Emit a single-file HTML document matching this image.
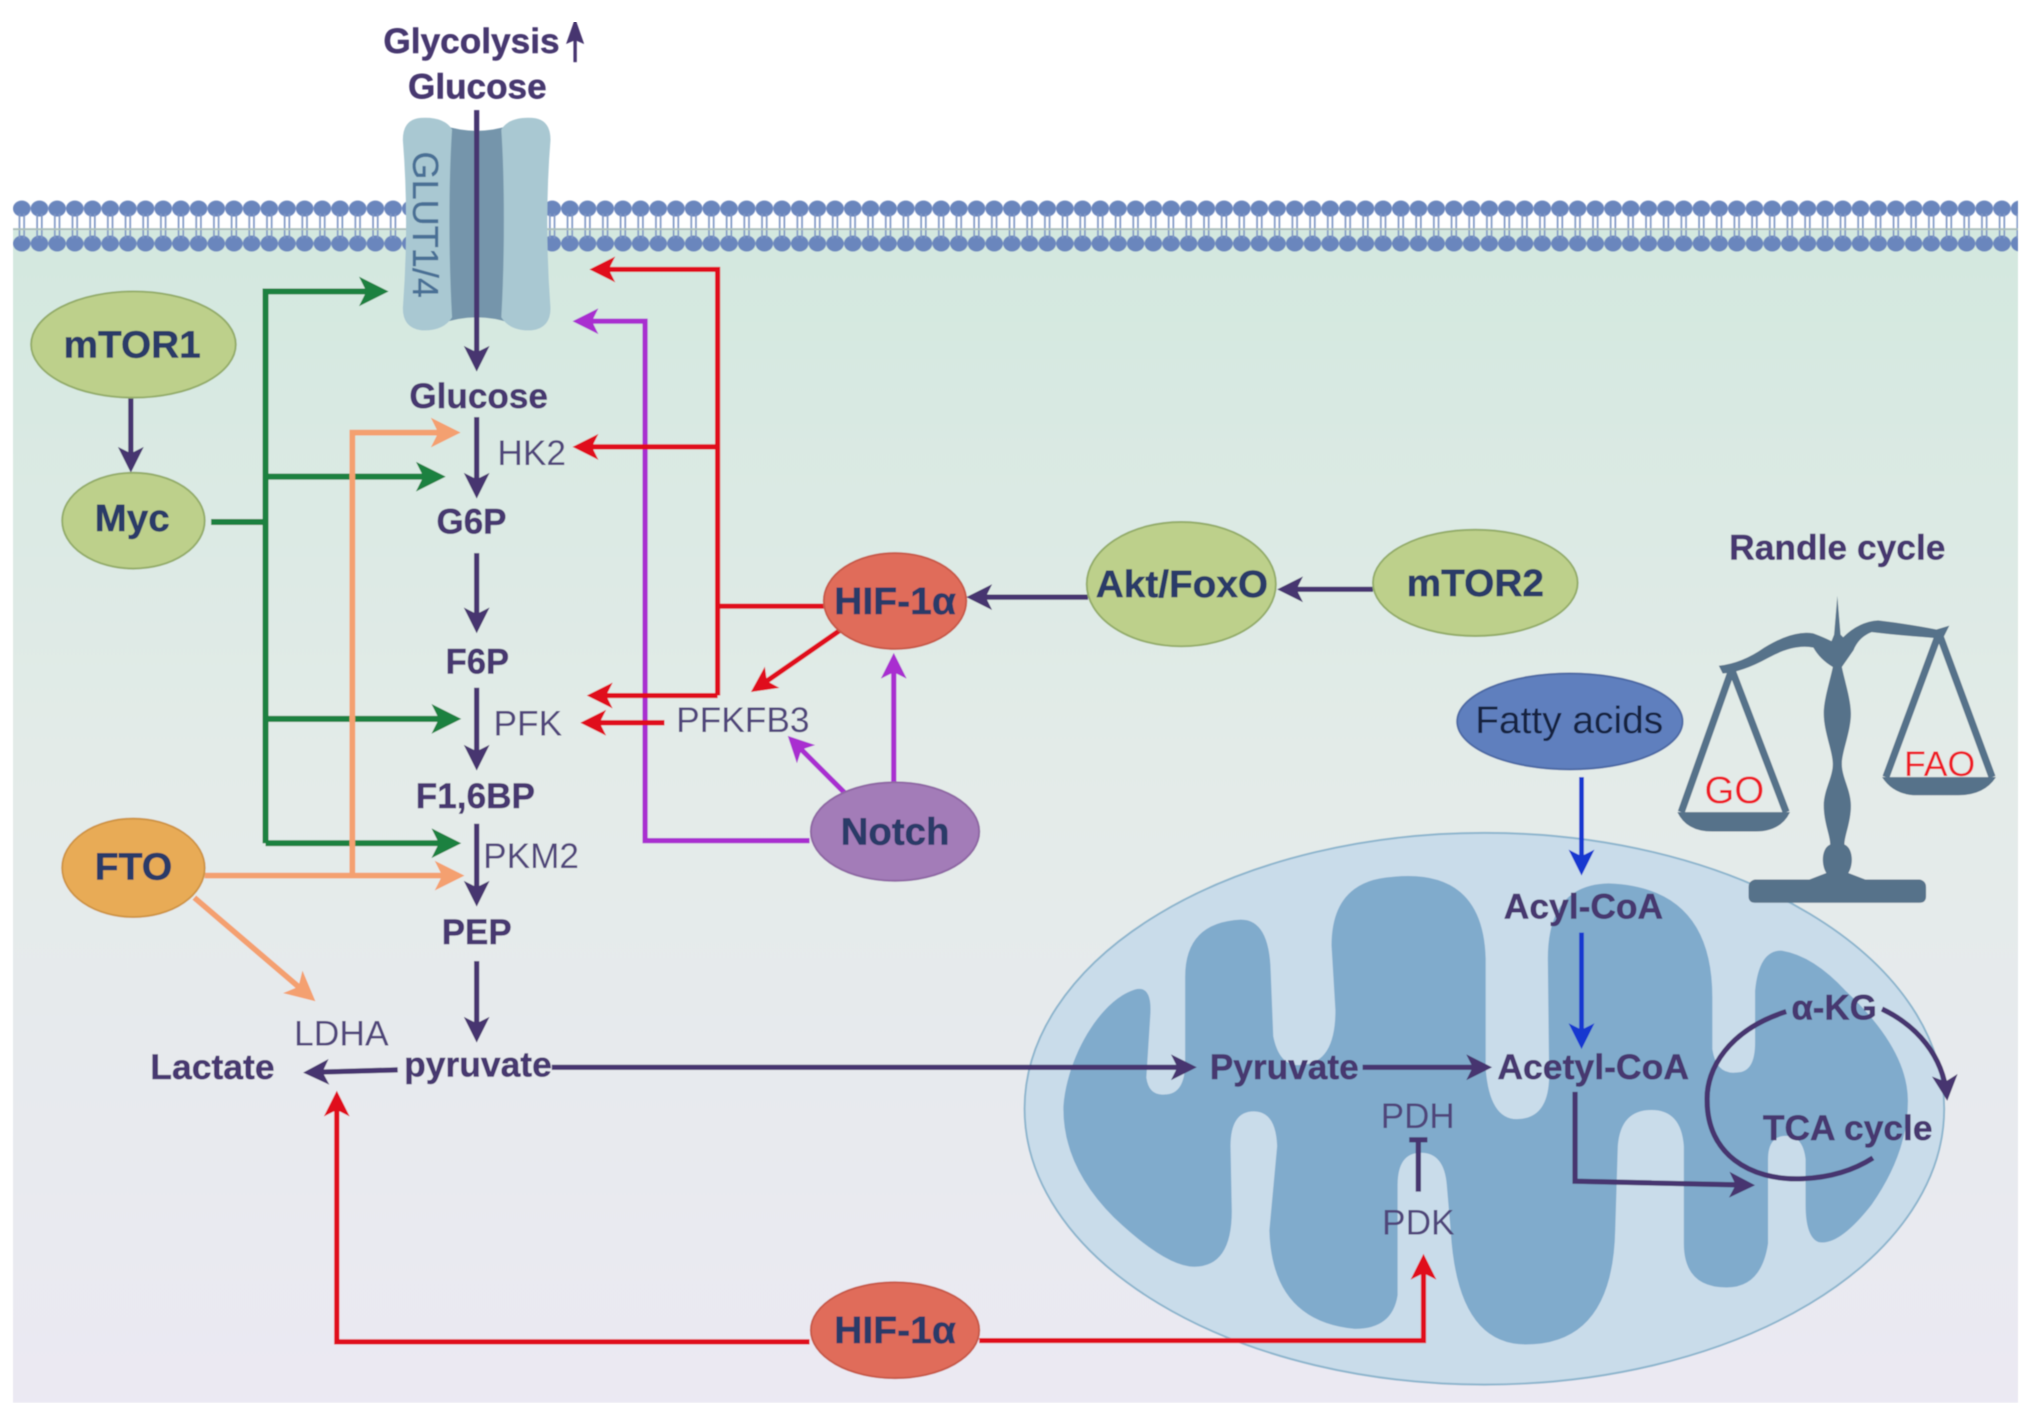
<!DOCTYPE html>
<html><head><meta charset="utf-8"><style>html,body{margin:0;padding:0;background:#fff}svg{display:block}text{font-family:"Liberation Sans",sans-serif}.b{font-weight:bold;fill:#47386f;font-size:27px;stroke:#47386f;stroke-width:.35px}.r{fill:#50457a;font-size:27px}.n{font-weight:bold;fill:#2b3a67;font-size:29px;stroke:#2b3a67;stroke-width:.35px}.l{fill:none;stroke-width:4}.d{stroke:#47366f}.g{stroke:#1a8140;stroke-width:4.6}.o{stroke:#f4a070;stroke-width:4.4}.e{stroke:#e0101f}.p{stroke:#a92fd0}.u{stroke:#1537d0;stroke-width:3.6}</style></head><body>
<svg xmlns="http://www.w3.org/2000/svg" width="2031" height="1417" viewBox="0 0 1568 1094">
<defs>
<linearGradient id="bg" x1="0" y1="0" x2="0" y2="1"><stop offset="0" stop-color="#d3e8df"/><stop offset=".45" stop-color="#e3ebe8"/><stop offset="1" stop-color="#ebe9f3"/></linearGradient>
<pattern id="lip" x="10" y="153" width="13.65" height="42" patternUnits="userSpaceOnUse"><ellipse cx="6.8" cy="8" rx="6.8" ry="6.2" fill="#6b86bd"/><ellipse cx="6.8" cy="35" rx="6.8" ry="6.2" fill="#6b86bd"/><path d="M5,12V31M8.6,12V31" stroke="#7f97c5" stroke-width="1.3" fill="none"/></pattern>
<marker id="md" viewBox="0 0 20 20" markerUnits="userSpaceOnUse" markerWidth="20" markerHeight="20" refX="16" refY="10" orient="auto"><path d="M0,0L20,10L0,20L5,10Z" fill="#47366f"/></marker>
<marker id="mt" viewBox="0 0 20 14" markerUnits="userSpaceOnUse" markerWidth="20" markerHeight="14" refX="16" refY="7" orient="auto"><path d="M0,0L20,7L0,14L3,7Z" fill="#47366f"/></marker>
<marker id="mg" viewBox="0 0 20 20" markerUnits="userSpaceOnUse" markerWidth="23" markerHeight="23" refX="16" refY="10" orient="auto"><path d="M0,0L20,10L0,20L5,10Z" fill="#1a8140"/></marker>
<marker id="mo" viewBox="0 0 20 20" markerUnits="userSpaceOnUse" markerWidth="23" markerHeight="23" refX="16" refY="10" orient="auto"><path d="M0,0L20,10L0,20L5,10Z" fill="#f4a070"/></marker>
<marker id="me" viewBox="0 0 20 20" markerUnits="userSpaceOnUse" markerWidth="20" markerHeight="20" refX="16" refY="10" orient="auto"><path d="M0,0L20,10L0,20L5,10Z" fill="#e0101f"/></marker>
<marker id="mp" viewBox="0 0 20 20" markerUnits="userSpaceOnUse" markerWidth="20" markerHeight="20" refX="16" refY="10" orient="auto"><path d="M0,0L20,10L0,20L5,10Z" fill="#a92fd0"/></marker>
<marker id="mu" viewBox="0 0 20 20" markerUnits="userSpaceOnUse" markerWidth="20" markerHeight="20" refX="16" refY="10" orient="auto"><path d="M0,0L20,10L0,20L5,10Z" fill="#1537d0"/></marker>
<filter id="soft" x="0" y="0" width="100%" height="100%"><feGaussianBlur stdDeviation="0.45"/></filter>
</defs>
<rect width="1568" height="1094" fill="#fff"/>
<g filter="url(#soft)">
<rect x="10" y="178" width="1548" height="905" fill="url(#bg)"/>
<rect x="10" y="153" width="1548" height="42" fill="url(#lip)"/>
<path d="M10,177H1558" stroke="#a9bdb9" stroke-width="1.5"/>

<!-- GLUT -->
<path d="M340,96Q368,106 396,96V250Q368,240 340,250Z" fill="#7595ab"/>
<path d="M325,91Q343,90 349,100Q347,130 347,170Q347,210 349,245Q342,256 325,255Q311,253 311,238Q316,170 311,108Q311,92 325,91Z" fill="#a9c8d2"/>
<path d="M411,91Q393,90 387,100Q389,130 389,170Q389,210 387,245Q394,256 411,255Q425,253 425,238Q420,170 425,108Q425,92 411,91Z" fill="#a9c8d2"/>
<text transform="translate(319,117) rotate(90)" font-size="28" fill="#4a6f95" stroke="#4a6f95" stroke-width=".25" textLength="113" lengthAdjust="spacingAndGlyphs">GLUT1/4</text>

<!-- mitochondrion -->
<ellipse cx="1146" cy="856" rx="355" ry="213" fill="#c9dcea" stroke="#8db5cd" stroke-width="1.5"/>
<path fill="#80abcc" d="M821,854 C824,815 850,772 876,764 Q890,760 888,785 L885,832 Q887,846 899,845 Q915,845 915,820 L915,754 Q915,712 958,710 Q980,710 981,750 L983,800 Q988,825 1006,822 Q1031,820 1031,780 L1028,730 Q1028,680 1075,677 Q1145,670 1147,740 L1147,825 Q1150,864 1171,864 Q1196,864 1196,830 L1195,740 Q1195,683 1242,682 Q1322,685 1322,770 L1322,810 Q1325,830 1341,828 Q1355,828 1355,805 L1355,765 Q1358,733 1376,734 Q1400,738 1425,765 Q1473,810 1473,850 Q1473,890 1445,930 Q1420,962 1404,959 Q1394,955 1394,930 L1394,895 Q1392,877 1379,877 Q1365,877 1365,895 L1365,960 Q1360,994 1333,994 Q1300,994 1300,960 L1300,885 Q1298,857 1275,857 Q1251,857 1249,885 L1247,950 Q1245,1038 1178,1038 Q1125,1038 1120,950 L1117,915 Q1115,890 1097,890 Q1079,890 1079,915 L1079,1000 Q1075,1026 1046,1026 Q982,1020 980,950 L986,885 Q985,858 968,858 Q950,858 950,885 L951,935 Q951,978 922,978 Q900,978 860,940 Q820,900 821,854 Z"/>

<!-- balance -->
<g fill="#56728a">
<path d="M1327,514 Q1345,512 1362,500 Q1385,486 1400,489 Q1408,492 1414,495 L1416,490 L1418.5,460 L1421,490 L1423,492 Q1435,480 1450,479 Q1475,482 1495,486 L1505,483 L1500,493 Q1470,491 1445,488 Q1435,492 1431,502 L1422,515 C1424,525 1429,540 1429,551 C1429,565 1422,580 1422,590 C1422,600 1429,610 1429,622 C1429,635 1424,645 1424,652 C1431,655 1431,668 1427,674 L1440,679 L1482,679 Q1487,680 1487,685 L1487,692 Q1487,697 1482,697 L1355,697 Q1350,697 1350,692 L1350,685 Q1350,680 1355,679 L1397,679 L1410,674 C1406,668 1406,655 1413,652 C1413,645 1408,635 1408,622 C1408,610 1415,600 1415,590 C1415,580 1408,565 1408,551 C1408,540 1413,525 1415,515 Q1405,509 1400,500 Q1385,497 1365,508 Q1345,519 1330,520 Z"/>
<path d="M1295,627L1382,627Q1375,642 1355,642L1322,642Q1302,642 1295,627Z"/>
<path d="M1453,600L1541,600Q1532,614 1512,614L1480,614Q1462,614 1453,600Z"/>
<path d="M1337,517L1298,627M1337,517L1379,627M1497,489L1456,600M1497,489L1538,600" fill="none" stroke="#56728a" stroke-width="5.5"/>
</g>
<text x="1316" y="620" font-size="29" fill="#ee1c25" textLength="46" lengthAdjust="spacingAndGlyphs">GO</text>
<text x="1470" y="599" font-size="27" fill="#ee1c25" textLength="55" lengthAdjust="spacingAndGlyphs">FAO</text>

<!-- connectors -->
<g class="x">
<path class="l g" d="M163,403H205"/>
<path class="l g" d="M205,651V225H295.5" marker-end="url(#mg)"/>
<path class="l g" d="M205,368H339.5" marker-end="url(#mg)"/>
<path class="l g" d="M205,555H351.5" marker-end="url(#mg)"/>
<path class="l g" d="M205,651H351.5" marker-end="url(#mg)"/>
<path class="l o" d="M158,676H354" marker-end="url(#mo)"/>
<path class="l o" d="M272,676V334H351" marker-end="url(#mo)"/>
<path class="l o" d="M150,693L240,770" marker-end="url(#mo)"/>
<path class="l p" d="M625,649H498V248H446" marker-end="url(#mp)"/>
<path class="l p" d="M653,613L611,571" marker-end="url(#mp)"/>
<path class="l p" d="M690,612V508" marker-end="url(#mp)"/>
<path class="l e" d="M636,468H554"/>
<path class="l e" d="M554,537V208H459" marker-end="url(#me)"/>
<path class="l e" d="M554,345H446" marker-end="url(#me)"/>
<path class="l e" d="M554,537H457" marker-end="url(#me)"/>
<path class="l e" d="M648,487L583,532" marker-end="url(#me)"/>
<path class="l e" d="M513,558H452" marker-end="url(#me)"/>
<path class="l e" d="M625,1036H260V846" marker-end="url(#me)"/>
<path class="l e" d="M756,1035H1099V972" marker-end="url(#me)"/>
<path class="l u" d="M1221,600V672" marker-end="url(#mu)"/>
<path class="l u" d="M1221,720V806" marker-end="url(#mu)"/>
<path class="l d" d="M368,85V283" marker-end="url(#md)"/>
<path class="l d" d="M101,307V361" marker-end="url(#md)"/>
<path class="l d" d="M368,322V381" marker-end="url(#md)"/>
<path class="l d" d="M368,427V485" marker-end="url(#md)"/>
<path class="l d" d="M368,531V591" marker-end="url(#md)"/>
<path class="l d" d="M368,636V696" marker-end="url(#md)"/>
<path class="l d" d="M368,742V801" marker-end="url(#md)"/>
<path class="l d" d="M307,826L238,828" marker-end="url(#md)"/>
<path class="l d" d="M426,824H920" marker-end="url(#md)"/>
<path class="l d" d="M1052,824H1148" marker-end="url(#md)"/>
<path class="l d" d="M840,461H750" marker-end="url(#md)"/>
<path class="l d" d="M1060,455H990" marker-end="url(#md)"/>
<path class="l d" d="M1216,843V912L1351,915" marker-end="url(#md)"/>
<path class="l d" style="stroke-width:2.6" d="M444,48V18" marker-end="url(#mt)"/>
<path class="l d" d="M1379,781C1335,795 1317,825 1318,850C1318,890 1350,912 1392,910C1415,909 1432,903 1446,894"/>
<path class="l d" d="M1453,779C1480,792 1500,815 1503,846" marker-end="url(#md)"/>
<path class="l d" d="M1095,920V880M1088,880H1102"/>
</g>

<!-- nodes -->
<g stroke-width="1.5">
<ellipse cx="103" cy="266" rx="79" ry="41" fill="#bdd08b" stroke="#94ad6a"/>
<ellipse cx="103" cy="402" rx="55" ry="37" fill="#bdd08b" stroke="#94ad6a"/>
<ellipse cx="103" cy="670" rx="55" ry="38" fill="#e8ab57" stroke="#cf9545"/>
<ellipse cx="691" cy="464" rx="55" ry="37" fill="#e06c5a" stroke="#c85a4a"/>
<ellipse cx="912" cy="451" rx="73" ry="48" fill="#bdd08b" stroke="#94ad6a"/>
<ellipse cx="1139" cy="450" rx="79" ry="41" fill="#bdd08b" stroke="#94ad6a"/>
<ellipse cx="1212" cy="557" rx="87" ry="37" fill="#5f7fbe" stroke="#4d6ba6"/>
<ellipse cx="691" cy="642" rx="65" ry="38" fill="#a37bb8" stroke="#8f68a4"/>
<ellipse cx="691" cy="1027" rx="65" ry="37" fill="#e06c5a" stroke="#c85a4a"/>
</g>

<!-- labels -->
<text class="b" x="296" y="41" textLength="136" lengthAdjust="spacingAndGlyphs">Glycolysis</text>
<text class="b" x="315" y="76" textLength="107" lengthAdjust="spacingAndGlyphs">Glucose</text>
<text class="b" x="316" y="315" textLength="107" lengthAdjust="spacingAndGlyphs">Glucose</text>
<text class="r" x="384" y="359" textLength="53" lengthAdjust="spacingAndGlyphs">HK2</text>
<text class="b" x="337" y="412" textLength="54" lengthAdjust="spacingAndGlyphs">G6P</text>
<text class="b" x="344" y="520" textLength="49" lengthAdjust="spacingAndGlyphs">F6P</text>
<text class="r" x="381" y="568" textLength="53" lengthAdjust="spacingAndGlyphs">PFK</text>
<text class="b" x="321" y="624" textLength="92" lengthAdjust="spacingAndGlyphs">F1,6BP</text>
<text class="r" x="373" y="670" textLength="74" lengthAdjust="spacingAndGlyphs">PKM2</text>
<text class="b" x="341" y="729" textLength="54" lengthAdjust="spacingAndGlyphs">PEP</text>
<text class="b" x="312" y="831" textLength="114" lengthAdjust="spacingAndGlyphs">pyruvate</text>
<text class="b" x="116" y="833" textLength="96" lengthAdjust="spacingAndGlyphs">Lactate</text>
<text class="r" x="227" y="807" textLength="73" lengthAdjust="spacingAndGlyphs">LDHA</text>
<text class="r" x="522" y="565" textLength="103" lengthAdjust="spacingAndGlyphs">PFKFB3</text>
<text class="n" x="49" y="276" textLength="106" lengthAdjust="spacingAndGlyphs">mTOR1</text>
<text class="n" x="73" y="410" textLength="58" lengthAdjust="spacingAndGlyphs">Myc</text>
<text class="n" x="73" y="679" textLength="60" lengthAdjust="spacingAndGlyphs">FTO</text>
<text class="n" x="644" y="474" textLength="94" lengthAdjust="spacingAndGlyphs">HIF-1α</text>
<text class="n" x="846" y="461" textLength="133" lengthAdjust="spacingAndGlyphs">Akt/FoxO</text>
<text class="n" x="1086" y="460" textLength="106" lengthAdjust="spacingAndGlyphs">mTOR2</text>
<text class="n" x="649" y="652" textLength="84" lengthAdjust="spacingAndGlyphs">Notch</text>
<text class="n" x="644" y="1037" textLength="94" lengthAdjust="spacingAndGlyphs">HIF-1α</text>
<text x="1139" y="566" font-size="29" fill="#16233f" textLength="145" lengthAdjust="spacingAndGlyphs">Fatty acids</text>
<text class="b" x="1335" y="432" textLength="167" lengthAdjust="spacingAndGlyphs">Randle cycle</text>
<text class="b" x="1161" y="709" textLength="123" lengthAdjust="spacingAndGlyphs">Acyl-CoA</text>
<text class="b" x="934" y="833" textLength="115" lengthAdjust="spacingAndGlyphs">Pyruvate</text>
<text class="b" x="1156" y="833" textLength="148" lengthAdjust="spacingAndGlyphs">Acetyl-CoA</text>
<text class="b" x="1383" y="787" textLength="66" lengthAdjust="spacingAndGlyphs">α-KG</text>
<text class="b" x="1361" y="880" textLength="131" lengthAdjust="spacingAndGlyphs">TCA cycle</text>
<text class="r" x="1066" y="871" textLength="57" lengthAdjust="spacingAndGlyphs">PDH</text>
<text class="r" x="1067" y="953" textLength="56" lengthAdjust="spacingAndGlyphs">PDK</text>
</g>
</svg>
</body></html>
